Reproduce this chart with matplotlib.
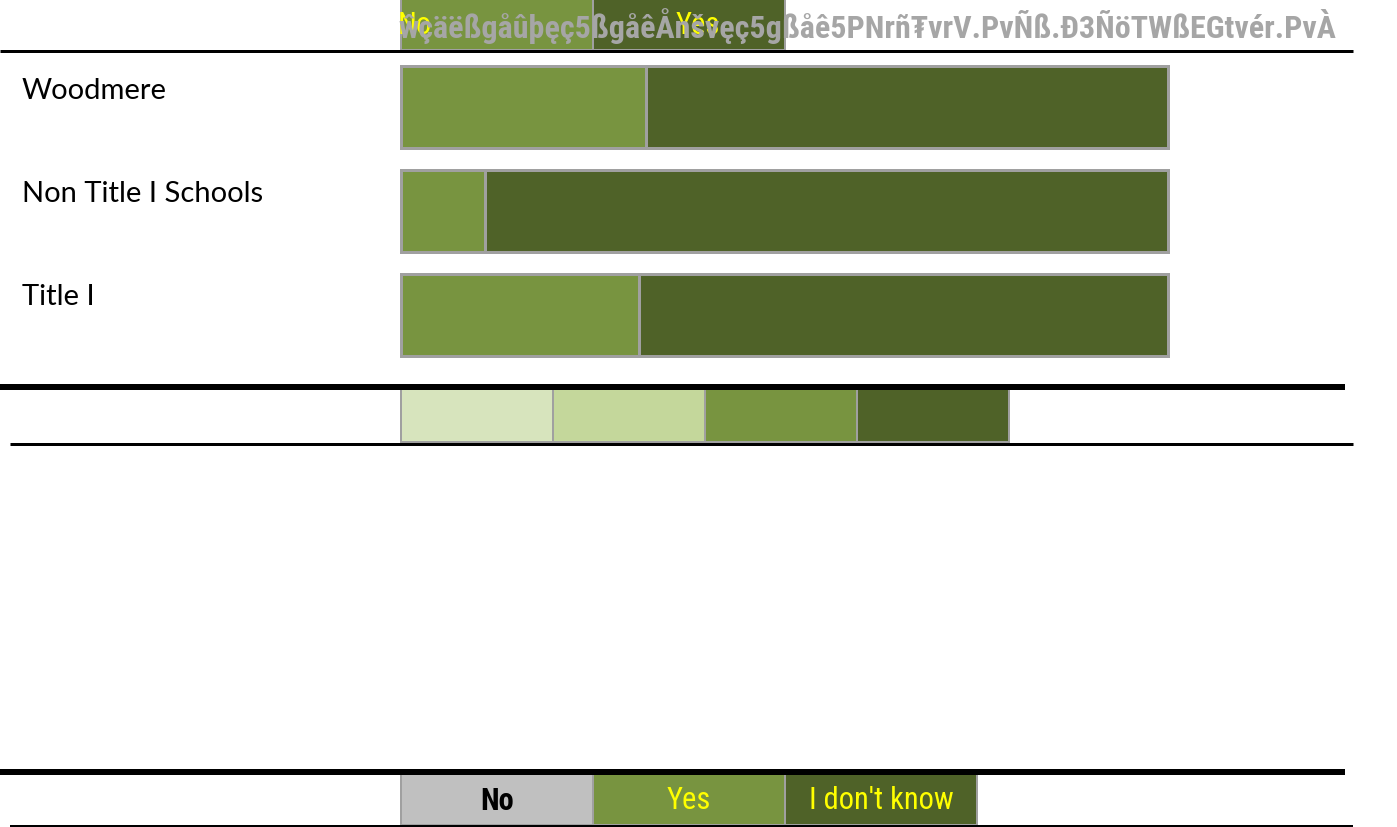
import matplotlib.pyplot as plt
from matplotlib import font_manager

# row data: share of answers, in percent
groups = ['Woodmere', 'Non Title I Schools', 'Title I']
yes_pct = [32, 11, 31]
dont_know_pct = [68, 89, 69]

answers = ['No', 'Yes', "I don't know"]
answer_colors = ['#C0C0C0', '#789440', '#4F6228']
answer_text_colors = ['black', '#FFFF00', '#FFFF00']

scale_colors = ['#D7E4BD', '#C4D79B', '#789440', '#4F6228']

header_noise = 'ŵçäëßgåûþęç5ßgåêÅnšvęç5gßåê5PNrñ₮vrV.PvÑß.Ð3ÑöTWßEGtvér.PvÀ'

EDGE = '#A0A0A0'
W, H = 1397, 828
PX = 0.72  # one pixel in points at dpi 100


def pick_font(names):
    have = {f.name for f in font_manager.fontManager.ttflist}
    for n in names:
        if n in have:
            return n
    return 'DejaVu Sans'


narrow = pick_font(['Liberation Sans Narrow', 'Roboto Condensed', 'Liberation Sans'])
label_font = pick_font(['Lato', 'Open Sans', 'DejaVu Sans'])


def main():
    fig = plt.figure(figsize=(W / 100, H / 100), dpi=100)

    # full-figure axes in pixel units for the rules and legend strips
    ax = fig.add_axes([0, 0, 1, 1])
    ax.set_xlim(0, W)
    ax.set_ylim(H, 0)
    ax.axis('off')

    # header strip (cut-off copy of the legend)
    for i in range(2):
        ax.barh(25, 192, left=401 + i * 192, height=52, color=answer_colors[i + 1],
                edgecolor=EDGE, linewidth=2 * PX)
    ax.text(398, 26, 'No', color='#FFFF00', fontsize=22, va='center', family=narrow)
    ax.text(676, 26, 'Yes', color='#FFFF00', fontsize=22, va='center', family=narrow)
    noise = ax.text(398, 26, header_noise, color='#A6A6A6', fontsize=23, va='center',
                    family=[narrow, 'DejaVu Sans'], fontweight='bold')
    # squeeze the garbled header run into the space the reference gives it
    fig.canvas.draw()
    wpx = noise.get_window_extent().width
    if wpx > 990:
        noise.set_fontsize(23 * 990 / wpx)

    # horizontal rules
    ax.plot([0, 1353], [52, 52], color='black', lw=3 * PX, solid_capstyle='butt')
    ax.plot([0, 1345], [388, 388], color='black', lw=6 * PX, solid_capstyle='butt')
    ax.plot([10, 1353], [444.5, 444.5], color='black', lw=3 * PX, solid_capstyle='butt')
    ax.plot([0, 1345], [773, 773], color='black', lw=6 * PX, solid_capstyle='butt')
    ax.plot([10, 1353], [827, 827], color='black', lw=2 * PX, solid_capstyle='butt')

    # colour scale strip (no text)
    for i, c in enumerate(scale_colors):
        ax.barh(416, 152, left=401 + i * 152, height=54, color=c,
                edgecolor=EDGE, linewidth=2 * PX)

    # legend strip at the bottom
    for i, (a, c, tc) in enumerate(zip(answers, answer_colors, answer_text_colors)):
        x0 = 401 + i * 192
        ax.barh(800, 192, left=x0, height=52, color=c, edgecolor=EDGE, linewidth=2 * PX)
        ax.text(x0 + 96, 801, a, color=tc, fontsize=22, ha='center', va='center',
                family=narrow, fontweight='bold' if i == 0 else 'normal')

    # row labels
    for y, g in zip([91, 194, 297], groups):
        ax.text(22, y, g, fontsize=21, va='center', family=label_font, color='black')

    # stacked bars
    bx = fig.add_axes([401 / W, 1 - 368 / H, 767 / W, 312 / H])
    rows = range(len(groups))
    bx.barh(rows, yes_pct, height=0.79, color=answer_colors[1],
            edgecolor=EDGE, linewidth=3 * PX)
    bx.barh(rows, dont_know_pct, left=yes_pct, height=0.79, color=answer_colors[2],
            edgecolor=EDGE, linewidth=3 * PX)
    bx.set_xlim(0, 100)
    bx.set_ylim(2.5, -0.5)
    bx.axis('off')
    for b in bx.patches:
        b.set_clip_on(False)

    fig.savefig('out.png', dpi=100)


if __name__ == "__main__":
    main()
